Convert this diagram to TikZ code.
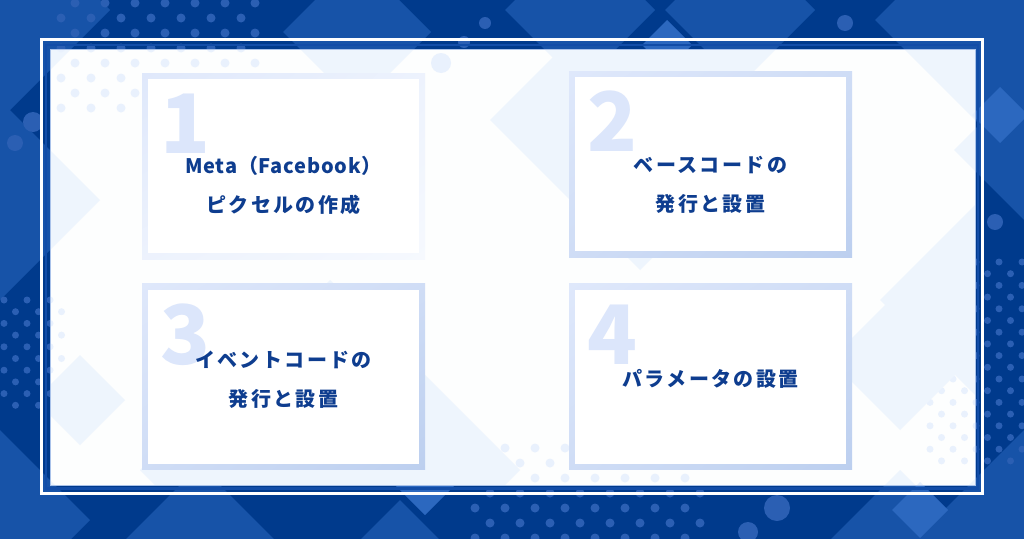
\documentclass[tikz,border=0pt]{standalone}
\usepackage{fontspec}
\setmainfont{Noto Sans CJK JP}
\newfontfamily\jpfont{Noto Sans CJK JP}[LetterSpace=12]
\usetikzlibrary{calc, positioning, shadings}

\definecolor{bgdark}{HTML}{003A8C}
\definecolor{bgmid}{HTML}{1753A8}
\definecolor{bglight}{HTML}{2C68BF}
\definecolor{bgdot}{HTML}{2B5FB3}
\definecolor{palemid}{HTML}{EEF5FD}
\definecolor{palelight}{HTML}{E6EFFC}
\definecolor{paledot}{HTML}{E9F1FD}
\definecolor{paneledge}{HTML}{A9C2EA}
\definecolor{frameblue}{HTML}{124DA8}
\definecolor{navy}{HTML}{0E3D8F}
\definecolor{numblue}{HTML}{DCE6FB}
\definecolor{edgeA}{HTML}{DFE8FB}
\definecolor{edgeB}{HTML}{BCCFEF}
\definecolor{edgeC}{HTML}{F6F9FE}

\newcommand\decoshapes[3]{%
  \foreach \cx/\cy/\r in {0/10/110, 357/32/74, 580/10/75, 740/10/75, 990/20/115,
      0/200/100, 0/520/90, 1024/150/70, 1024/520/90, 200/600/135, 400/560/60, 900/600/130}
    {\fill[#1] (\cx-\r,\cy) -- (\cx,\cy-\r) -- (\cx+\r,\cy) -- (\cx,\cy+\r) -- cycle;}
  \foreach \cx/\cy/\r in {667/45/25, 1000/115/28, 425/480/35, 920/510/28}
    {\fill[#2] (\cx-\r,\cy) -- (\cx,\cy-\r) -- (\cx+\r,\cy) -- (\cx,\cy+\r) -- cycle;}
  \foreach \j in {0,...,7}
    \foreach \i in {0,...,6}
      {\fill[#3] ({61+30*\i+14*mod(\j+1,2)},{3+15*\j}) circle[radius=4.5pt];}
  \foreach \j in {0,...,6}
    \foreach \i in {0,...,7}
      {\fill[#3] ({475+30*\i+15*mod(\j,2)},{448+15*\j}) circle[radius=4.5pt];}
  \foreach \j in {0,...,17}
    \foreach \i in {0,...,4}
      {\fill[#3] ({930+23*\i+11.5*mod(\j,2)},{262+11.7*\j}) circle[radius=3.5pt];}
  \foreach \j in {0,...,9}
    \foreach \i in {0,...,2}
      {\fill[#3] ({4+23*\i+11.5*mod(\j,2)},{300+11.7*\j}) circle[radius=3.5pt];}
  \foreach \cx/\cy/\r in {485/23/6, 845/23/8, 464/42/6, 441/63/10, 33/122/10, 15/143/8,
      777/508/13, 748/532/10, 952/273/12, 995/222/8}
    {\fill[#3] (\cx,\cy) circle[radius=\r pt];}
}

\tikzset{
  stepbox/.style={rectangle, minimum width=283pt, minimum height=186pt, inner sep=0pt,
    upper left=edgeA, upper right=edgeA!55!edgeB, lower left=edgeA!55!edgeB, lower right=edgeB},
  fadebox/.style={stepbox, upper left=edgeA, upper right=edgeA!40!edgeC,
    lower left=edgeA!40!edgeC, lower right=edgeC},
  stepin/.style={rectangle, fill=white, minimum width=271pt, minimum height=174pt, inner sep=0pt},
  stepnum/.style={anchor=base west, inner sep=0pt, text=numblue,
    font=\fontsize{82}{82}\selectfont\bfseries},
  steptext/.style={align=center, inner sep=0pt, text=navy,
    font=\jpfont\fontsize{20}{39}\selectfont\bfseries},
}

\begin{document}
\begin{tikzpicture}[x=1pt, y=-1pt]
  \useasboundingbox (0,0) rectangle (1024,538);
  \fill[bgdark] (-6,-6) rectangle (1030,544);
  \decoshapes{bgmid}{bglight}{bgdot}

  \draw[white, line width=3pt] (41,39.5) rectangle (982.5,493);
  \draw[frameblue, line width=2.5pt] (46,45) rectangle (978,488.5);
  \fill[white!98!paneledge] (50,49) rectangle (975,485);
  \begin{scope}
    \clip (50,49) rectangle (975,485);
    \decoshapes{palemid}{palelight}{paledot}
    \foreach \cx/\cy/\r in {640/120/150, 330/470/190, 80/400/45, 900/360/70, 1000/300/120}
      {\fill[palemid] (\cx-\r,\cy) -- (\cx,\cy-\r) -- (\cx+\r,\cy) -- (\cx,\cy+\r) -- cycle;}
  \end{scope}
  \draw[paneledge, line width=0.8pt] (50,49) rectangle (975,485);

  \node[fadebox, shade] (b1) at (283.5,166) {};
  \node[stepbox, shade] (b2) at (710.5,164) {};
  \node[stepbox, shade] (b3) at (283.5,376.5) {};
  \node[stepbox, shade] (b4) at (710.5,376.5) {};
  \foreach \b in {b1,b2,b3,b4}
    \node[stepin] at (\b) {};

  \node[stepnum] (n1) at ($(b1.north west)+(18,81)$) {1};
  \node[stepnum] (n2) at ($(b2.north west)+(18,81)$) {2};
  \node[stepnum] (n3) at ($(b3.north west)+(18,81)$) {3};
  \node[stepnum] (n4) at ($(b4.north west)+(18,81)$) {4};

  \node[steptext] (t1) at ($(b1)+(0,19.5)$) {{\addfontfeatures{LetterSpace=4}Meta（Facebook）}\\ピクセルの作成};
  \node[steptext] (t2) at ($(b2)+(0,21)$) {ベースコードの\\発行と設置};
  \node[steptext] (t3) at ($(b3)+(0,3.5)$) {イベントコードの\\発行と設置};
  \node[steptext] (t4) at ($(b4)+(0,2.5)$) {パラメータの設置};
\end{tikzpicture}
\end{document}
